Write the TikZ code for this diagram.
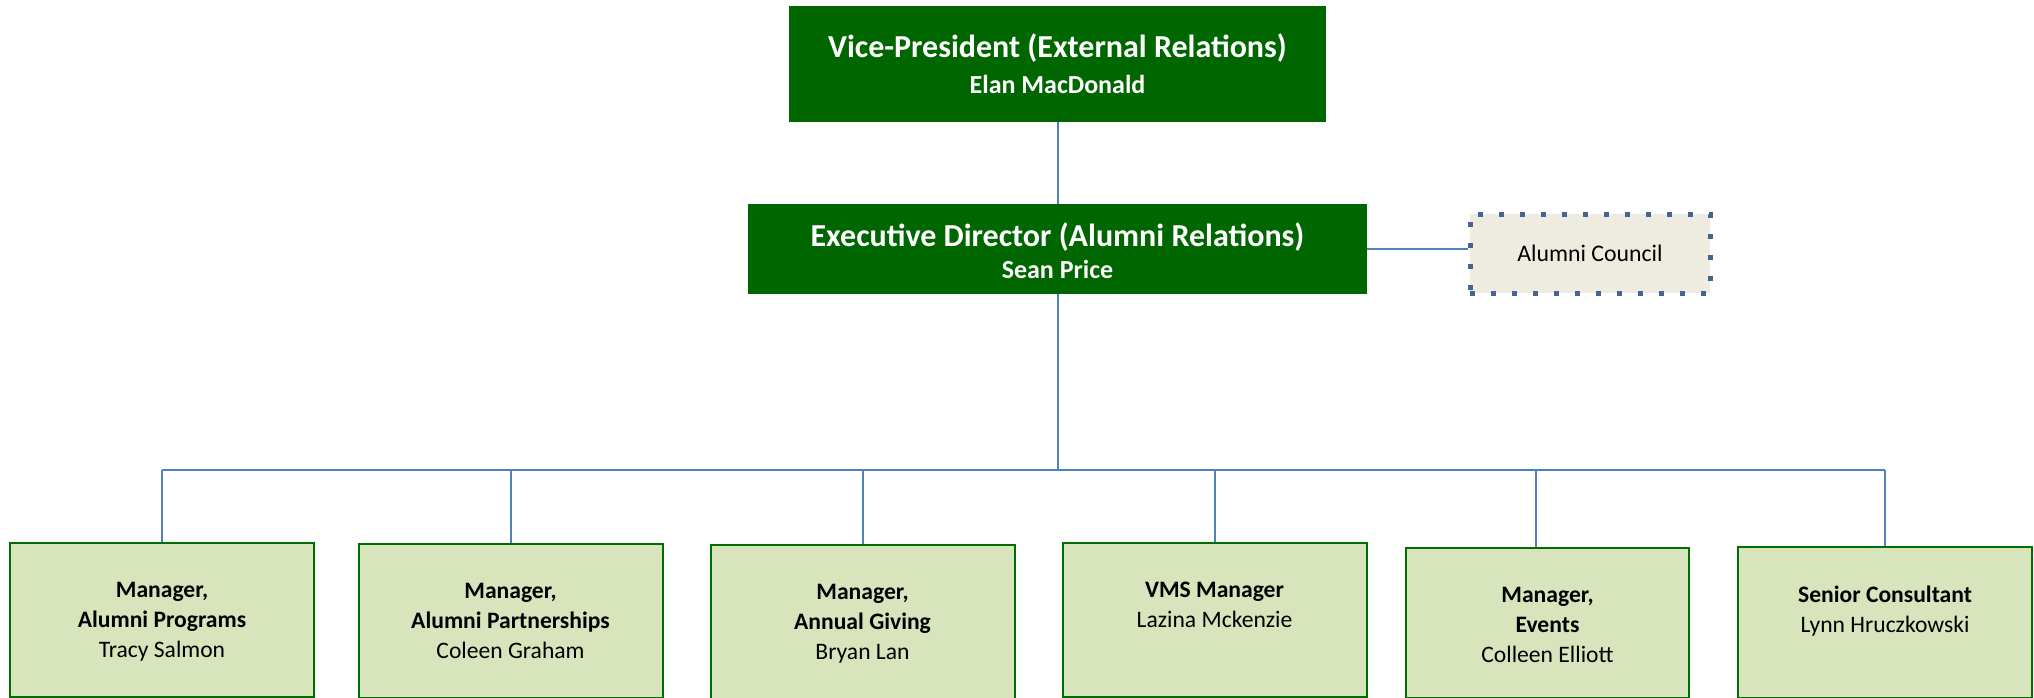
\documentclass[tikz,border=0pt]{standalone}
\usepackage{fontspec}
\setmainfont{Carlito}
\definecolor{vpgreen}{RGB}{0,102,0}
\definecolor{mgrfill}{RGB}{216,228,188}
\definecolor{mgrline}{RGB}{0,110,0}
\definecolor{linkblue}{RGB}{79,129,189}
\definecolor{councilfill}{RGB}{238,236,225}
\definecolor{councildots}{RGB}{68,100,145}

\begin{document}
\begin{tikzpicture}[x=0.5pt,y=-0.5pt,
  topbox/.style={fill=vpgreen, text=white, align=center, inner sep=0pt},
  mgrbox/.style={fill=mgrfill, draw=mgrline, line width=1pt, minimum width=152pt, minimum height=77pt, inner sep=0pt, anchor=north},
  mgrtext/.style={anchor=north, align=center, inner sep=0pt, font=\fontsize{11.8}{15}\selectfont},
  link/.style={draw=linkblue, line width=1pt}]
   \useasboundingbox (0,0) rectangle (2034,697);

   % top of the chart
   \node[topbox, minimum width=268.5pt, minimum height=58pt] (vp) at (1057.5,64)
     {\fontsize{16}{18}\selectfont\bfseries Vice-President (External Relations)\\[6pt]
      \fontsize{13}{15}\selectfont\bfseries Elan MacDonald};
   \node[topbox, minimum width=309.5pt, minimum height=45pt] (exdir) at (1057.5,249)
     {\fontsize{16}{18}\selectfont\bfseries\rule{0pt}{14pt}Executive Director (Alumni Relations)\\[4pt]
      \fontsize{13}{15}\selectfont\bfseries Sean Price};
   \node[fill=councilfill, draw=councildots, line width=2.5pt, dash pattern=on 2.5pt off 8pt,
         minimum width=120pt, minimum height=39.5pt, font=\fontsize{11.9}{14}\selectfont] (council) at (1590,253.5) {Alumni Council};

   % managers
   \node[mgrbox] (progs) at (162,542) {};
   \node[mgrbox] (partner) at (510.5,543) {};
   \node[mgrbox] (giving) at (862.5,544) {};
   \node[mgrbox] (vms) at (1214.5,542) {};
   \node[mgrbox, minimum width=141.5pt, minimum height=75pt] (events) at (1547.5,547) {};
   \node[mgrbox, minimum width=147pt, minimum height=75.5pt] (consult) at (1885,546) {};

   \node[mgrtext] (progs-t) at ([yshift=-20pt]progs.north) {\bfseries Manager,\\\bfseries Alumni Programs\\Tracy Salmon};
   \node[mgrtext] (partner-t) at ([yshift=-20pt]partner.north) {\bfseries Manager,\\\bfseries Alumni Partnerships\\Coleen Graham};
   \node[mgrtext] (giving-t) at ([yshift=-20pt]giving.north) {\bfseries Manager,\\\bfseries Annual Giving\\Bryan Lan};
   \node[mgrtext] (vms-t) at ([yshift=-20pt]vms.north) {\bfseries VMS Manager\\Lazina Mckenzie};
   \node[mgrtext] (events-t) at ([yshift=-20pt]events.north) {\bfseries Manager,\\\bfseries Events\\Colleen Elliott};
   \node[mgrtext] (consult-t) at ([yshift=-20pt]consult.north) {\bfseries Senior Consultant\\Lynn Hruczkowski};

   % lines
   \coordinate (bus) at (1057.5,470);
   \coordinate (busleft) at (progs.north |- bus);
   \coordinate (busright) at (consult.north |- bus);
   \coordinate (eventsdrop) at ([xshift=-6pt]events.north);
   \draw[link] (vp) -- (exdir);
   \draw[link] (exdir.east) -- (exdir.east -| council.west);
   \draw[link] (exdir.south) -- (bus);
   \draw[link] (busleft) -- (busright);
   \draw[link] (progs.north) -- (busleft);
   \draw[link] (partner.north) -- (partner.north |- bus);
   \draw[link] (giving.north) -- (giving.north |- bus);
   \draw[link] (vms.north) -- (vms.north |- bus);
   \draw[link] (eventsdrop) -- (eventsdrop |- bus);
   \draw[link] (consult.north) -- (busright);
 \end{tikzpicture}
\end{document}
